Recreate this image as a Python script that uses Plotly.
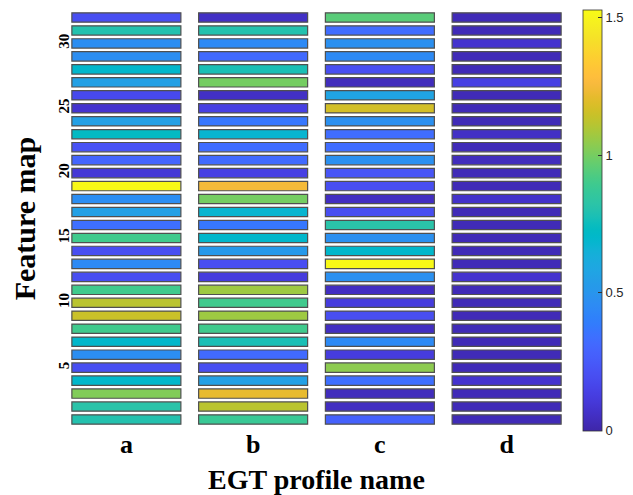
import plotly.graph_objects as go

profiles = ["a", "b", "c", "d"]
feature_maps = list(range(1, 33))
y_tick_vals = [5, 10, 15, 20, 25, 30]
cbar_ticks = [0, 0.5, 1, 1.5]

# values per profile, feature map 1..32 (bottom to top)
vals_a = [0.80, 0.82, 1.02, 0.70, 0.20, 0.47, 0.70, 0.90, 1.15, 1.12, 0.90, 0.20, 0.45, 0.20, 0.90, 0.34,
          0.56, 0.47, 1.52, 0.10, 0.30, 0.22, 0.73, 0.56, 0.08, 0.18, 0.56, 0.70, 0.47, 0.47, 0.80, 0.20]
vals_b = [0.88, 1.12, 1.22, 0.56, 0.20, 0.32, 0.78, 0.90, 1.07, 0.90, 1.07, 0.12, 0.20, 0.52, 0.70, 0.37,
          0.68, 1.00, 1.25, 0.14, 0.32, 0.33, 0.68, 0.37, 0.14, 0.06, 1.00, 0.78, 0.32, 0.45, 0.80, 0.06]
vals_c = [0.28, 0.05, 0.04, 0.34, 1.04, 0.12, 0.45, 0.05, 0.20, 0.12, 0.05, 0.48, 1.52, 0.70, 0.48, 0.82,
          0.20, 0.05, 0.20, 0.23, 0.48, 0.33, 0.33, 0.48, 1.17, 0.58, 0.04, 0.20, 0.45, 0.48, 0.33, 0.95]
vals_d = [0.03, 0.03, 0.03, 0.08, 0.03, 0.03, 0.03, 0.03, 0.03, 0.03, 0.03, 0.08, 0.03, 0.03, 0.03, 0.03,
          0.03, 0.07, 0.03, 0.03, 0.04, 0.03, 0.06, 0.03, 0.03, 0.03, 0.14, 0.03, 0.03, 0.08, 0.03, 0.03]
all_vals = [vals_a, vals_b, vals_c, vals_d]

CMAX = 1.53

parula_rgb = [
    (0.2422, 0.1504, 0.6603), (0.2504, 0.1650, 0.7076), (0.2578, 0.1818, 0.7511), (0.2647, 0.1978, 0.7952),
    (0.2706, 0.2147, 0.8364), (0.2751, 0.2342, 0.8710), (0.2783, 0.2559, 0.8991), (0.2803, 0.2782, 0.9221),
    (0.2813, 0.3006, 0.9414), (0.2810, 0.3228, 0.9579), (0.2795, 0.3447, 0.9717), (0.2760, 0.3667, 0.9829),
    (0.2699, 0.3892, 0.9906), (0.2602, 0.4123, 0.9952), (0.2440, 0.4358, 0.9988), (0.2206, 0.4603, 0.9973),
    (0.1963, 0.4847, 0.9892), (0.1834, 0.5074, 0.9798), (0.1786, 0.5289, 0.9682), (0.1764, 0.5499, 0.9520),
    (0.1687, 0.5703, 0.9359), (0.1540, 0.5902, 0.9218), (0.1460, 0.6091, 0.9079), (0.1380, 0.6276, 0.8973),
    (0.1248, 0.6459, 0.8883), (0.1113, 0.6635, 0.8763), (0.0952, 0.6798, 0.8598), (0.0689, 0.6948, 0.8394),
    (0.0297, 0.7082, 0.8163), (0.0036, 0.7203, 0.7917), (0.0067, 0.7312, 0.7660), (0.0433, 0.7411, 0.7394),
    (0.0964, 0.7500, 0.7120), (0.1408, 0.7584, 0.6842), (0.1717, 0.7670, 0.6554), (0.1938, 0.7758, 0.6251),
    (0.2161, 0.7843, 0.5923), (0.2470, 0.7918, 0.5567), (0.2906, 0.7973, 0.5188), (0.3406, 0.8008, 0.4789),
    (0.3909, 0.8029, 0.4354), (0.4456, 0.8024, 0.3909), (0.5044, 0.7993, 0.3480), (0.5616, 0.7942, 0.3045),
    (0.6174, 0.7876, 0.2612), (0.6720, 0.7793, 0.2227), (0.7242, 0.7698, 0.1910), (0.7738, 0.7598, 0.1646),
    (0.8203, 0.7498, 0.1535), (0.8634, 0.7406, 0.1596), (0.9035, 0.7330, 0.1774), (0.9393, 0.7288, 0.2100),
    (0.9728, 0.7298, 0.2394), (0.9956, 0.7434, 0.2371), (0.9970, 0.7659, 0.2199), (0.9952, 0.7893, 0.2028),
    (0.9892, 0.8136, 0.1885), (0.9786, 0.8386, 0.1766), (0.9676, 0.8639, 0.1643), (0.9610, 0.8890, 0.1537),
    (0.9597, 0.9135, 0.1423), (0.9628, 0.9373, 0.1265), (0.9691, 0.9606, 0.1064), (0.9769, 0.9839, 0.0805),
]
n = len(parula_rgb)
parula = [[i / (n - 1), "rgb(%d,%d,%d)" % tuple(round(c * 255) for c in rgb)] for i, rgb in enumerate(parula_rgb)]

serif = "Liberation Serif, Times New Roman, serif"
bar_h = 0.72

fig = go.Figure()
for idx, (name, vals) in enumerate(zip(profiles, all_vals)):
    fig.add_trace(go.Bar(
        x=[idx] * len(feature_maps),
        y=[bar_h] * len(feature_maps),
        base=[f - bar_h / 2 for f in feature_maps],
        width=0.86,
        marker=dict(color=vals, coloraxis="coloraxis",
                    line=dict(color="#505050", width=1.2)),
        name=name,
        showlegend=False,
        hovertemplate="%{x}: %{marker.color}<extra></extra>",
    ))

# the page body has an 8px margin, so the figure is drawn 8px smaller and shifted
fig.update_layout(
    width=625, height=487,
    margin=dict(l=55, r=63, t=2.5, b=69, autoexpand=False),
    paper_bgcolor="white", plot_bgcolor="white",
    barmode="overlay",
    coloraxis=dict(
        colorscale=parula, cmin=0, cmax=CMAX,
        colorbar=dict(
            x=1.0256, xanchor="left", y=1.0036, yanchor="top",
            lenmode="pixels", len=421, thickness=19, xpad=0, ypad=0,
            outlinecolor="#333333", outlinewidth=0.8,
            tickvals=cbar_ticks, ticktext=["0", "0.5", "1", "1.5"],
            ticks="inside", ticklen=4, tickcolor="#333333",
            tickfont=dict(family="Liberation Sans, Arial, sans-serif", size=13, color="#262626"),
        ),
    ),
    xaxis=dict(
        range=[-0.5, 3.5], tickvals=list(range(len(profiles))), ticktext=profiles,
        showgrid=False, zeroline=False, showline=False, ticks="",
        tickfont=dict(family=serif, size=26, color="black", weight="bold"),
        title=dict(text="<b>EGT profile name</b>", font=dict(family=serif, size=28, color="black"), standoff=11),
    ),
    yaxis=dict(
        range=[0.5, 32.5], tickvals=y_tick_vals,
        showgrid=False, zeroline=False, showline=False, ticks="",
        tickangle=-90, ticklabelstandoff=-10,
        tickfont=dict(family=serif, size=15, color="black", weight="bold"),
        title=dict(text="<b>Feature map</b>", font=dict(family=serif, size=30, color="black"), standoff=12),
    ),
)

fig.write_html("out.html")
